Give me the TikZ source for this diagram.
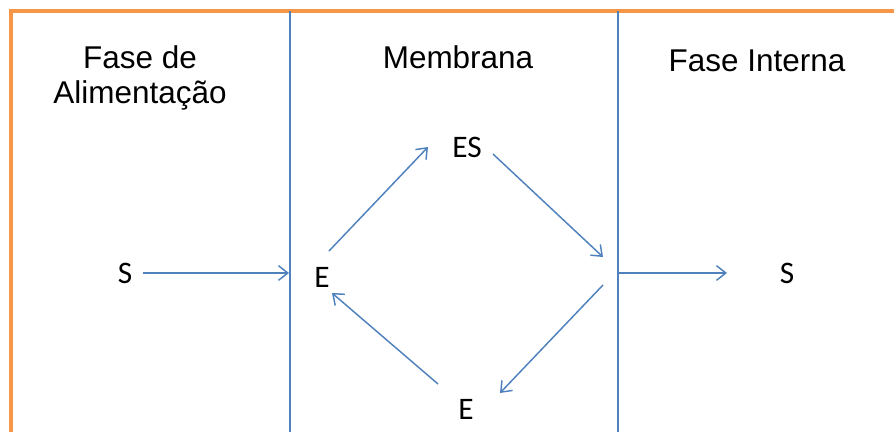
\documentclass[tikz,border=0pt]{standalone}
\usepackage{fontspec}
\setmainfont{Liberation Sans}
\newfontfamily\calibrifont{Carlito}
\usetikzlibrary{arrows.meta}
\definecolor{offblue}{HTML}{4F81BD}
\definecolor{offorange}{HTML}{F79646}
\begin{document}
\begin{tikzpicture}[x=0.75pt,y=-0.75pt,
  title/.style={font=\fontsize{23.6}{26.5}\selectfont, align=center, inner sep=0pt},
  lab/.style={font=\calibrifont\fontsize{23.5}{26}\selectfont, inner sep=0pt},
  conn/.style={draw=offblue, line width=1.1pt, -{Straight Barb[length=7pt,width=11pt,line width=1.1pt]}},
  divider/.style={draw=offblue, line width=1pt},
  frame/.style={draw=offorange, line width=2.4pt}]
\useasboundingbox (0,0) rectangle (894,432);
% frame and dividers
\draw[frame] (11,432) -- (11,11) -- (894,11);
\draw[divider] (290,11) -- (290,432);
\draw[divider] (618,11) -- (618,432);
% titles
\node[title] (tfeed) at (140,78) {Fase de\\Alimentação};
\node[title] (tmem) at (458,57) {Membrana};
\node[title] (tint) at (757,61) {Fase Interna};
% labels
\node[lab] (S1) at (125,273) {S};
\node[lab] (E1) at (322,277) {E};
\node[lab] (ES) at (467,147) {ES};
\node[lab] (E2) at (466,409) {E};
\node[lab] (S2) at (787,273) {S};
% connector ends
\coordinate (a1s) at (143,273);
\coordinate (a1e) at (289,273);
\coordinate (a2s) at (329,251);
\coordinate (a2e) at (428,147);
\coordinate (a3s) at (493,154);
\coordinate (a3e) at (603,257);
\coordinate (a4s) at (603,285);
\coordinate (a4e) at (500,393);
\coordinate (a5s) at (438,384);
\coordinate (a5e) at (332,293);
\coordinate (a6s) at (618,273);
\coordinate (a6e) at (727,273);
\draw[conn] (a1s) -- (a1e);
\draw[conn] (a2s) -- (a2e);
\draw[conn] (a3s) -- (a3e);
\draw[conn] (a4s) -- (a4e);
\draw[conn] (a5s) -- (a5e);
\draw[conn] (a6s) -- (a6e);
\end{tikzpicture}
\end{document}
